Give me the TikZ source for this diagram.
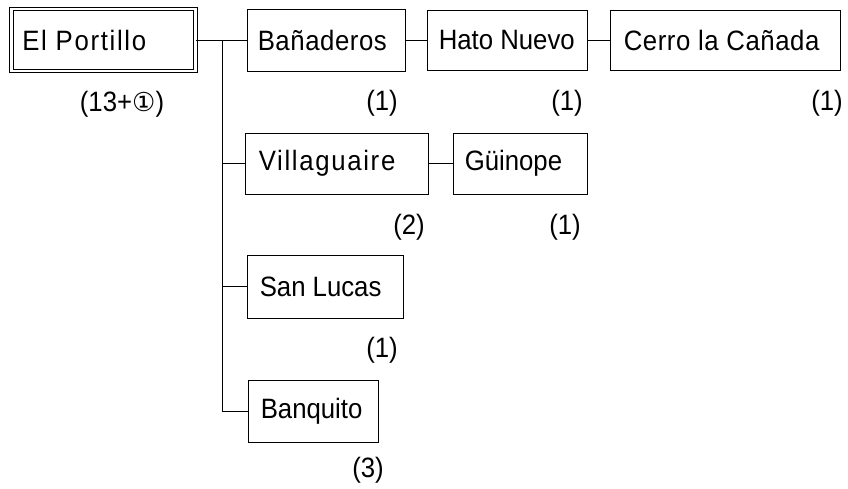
\documentclass[tikz,border=0pt]{standalone}
\usepackage{fontspec}
\setmainfont{Liberation Sans}[FakeStretch=0.92]
\newfontfamily\symfont{DejaVu Sans}
\newcommand{\lsp}[2]{{\addfontfeature{LetterSpace=#1}#2}}
\begin{document}
\begin{tikzpicture}[x=1pt,y=-1pt,
  box/.style={draw, line width=0.9pt, rectangle, inner sep=0pt},
  txt/.style={inner sep=0pt, anchor=west, font=\fontsize{28}{30}\selectfont},
  num/.style={inner sep=0pt, font=\fontsize{28}{30}\selectfont},
  conn/.style={line width=0.9pt}]
\useasboundingbox (0,0) rectangle (848,489);
% boxes
\node[box, double, double distance=2.4pt, minimum width=184pt, minimum height=62pt] (P) at (103.5,40) {};
\node[box, minimum width=158pt, minimum height=62pt] (B) at (326,40) {};
\node[box, minimum width=160pt, minimum height=60pt] (H) at (507,40) {};
\node[box, minimum width=230pt, minimum height=60pt] (C) at (725,40) {};
\node[box, minimum width=183pt, minimum height=61pt] (V) at (336.5,163.5) {};
\node[box, minimum width=134pt, minimum height=61pt] (G) at (520,163.5) {};
\node[box, minimum width=156pt, minimum height=63pt] (S) at (325,286.5) {};
\node[box, minimum width=130pt, minimum height=62pt] (Q) at (313,411) {};
% box texts
\node[txt] (tP) at ([xshift=11pt]P.west) {\lsp{6}{El Portillo}};
\node[txt] (tB) at ([xshift=11pt]B.west) {\lsp{2}{Bañaderos}};
\node[txt] (tH) at ([xshift=12pt]H.west) {Hato Nuevo};
\node[txt] (tC) at ([xshift=14pt]C.west) {\lsp{2}{Cerro la Cañada}};
\node[txt] (tV) at ([xshift=14pt]V.west) {\lsp{6}{Villaguaire}};
\node[txt] (tG) at ([xshift=12pt]G.west) {Güinope};
\node[txt] (tS) at ([xshift=13pt]S.west) {San Lucas};
\node[txt] (tQ) at ([xshift=13pt]Q.west) {Banquito};
% labels
\node[num] (lP) at (122,104) {(13+{\symfont\fontsize{26}{28}\selectfont ①})};
\node[num] (lB) at (382,103) {(1)};
\node[num] (lH) at (567,103) {(1)};
\node[num] (lC) at (827,103) {(1)};
\node[num] (lV) at (409,227) {(2)};
\node[num] (lG) at (565,227) {(1)};
\node[num] (lS) at (382,350) {(1)};
\node[num] (lQ) at (368,470) {(3)};
% connectors
\coordinate (J) at (222,40);
\draw[conn] (P.east) -- (B.west);
\draw[conn] (J) |- (Q.west);
\draw[conn] (J |- V.west) -- (V.west);
\draw[conn] (J |- S.west) -- (S.west);
\draw[conn] (B.east) -- (H.west);
\draw[conn] (H.east) -- (C.west);
\draw[conn] (V.east) -- (G.west);
\end{tikzpicture}
\end{document}
